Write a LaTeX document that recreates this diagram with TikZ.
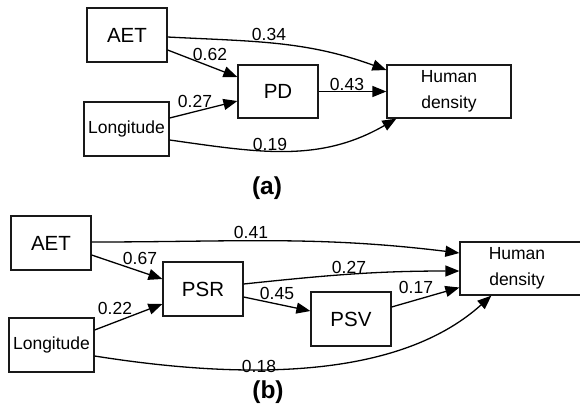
\documentclass[tikz,border=0pt]{standalone}
\usepackage{fontspec}
\setmainfont{Liberation Sans}
\usetikzlibrary{arrows.meta}
\newcommand\fbig{\fontsize{20.5}{24}\selectfont}
\newcommand\fmid{\fontsize{17.5}{25.5}\selectfont}
\newcommand\flab{\fontsize{17.5}{20}\selectfont}
\begin{document}
\begin{tikzpicture}[x=1pt,y=-1pt,
  box/.style={draw=black!90,line width=1.25pt,inner sep=0pt,minimum width=80pt,minimum height=54pt,font=\fbig},
  wbox/.style={box,font=\fmid,align=center},
  lab/.style={inner sep=0pt,font=\flab},
  panel/.style={inner sep=0pt,font=\fontsize{24.5}{28}\selectfont\bfseries},
  arr/.style={line width=1.3pt,-{Triangle[length=14pt,width=11pt]}}]
\useasboundingbox (0,0) rectangle (580,410);
% ---- panel (a)
\node[box] (aet1) at (127,35) {AET};
\node[wbox,minimum width=85pt] (lon1) at (126.5,129) {Longitude};
\node[box,minimum height=53pt] (pd) at (278,91.5) {PD};
\node[wbox,minimum width=124pt,minimum height=53pt] (hd1) at (449,91.5) {Human\\density};
\draw[arr] ([yshift=-2pt]aet1.east) to[out=-3,in=160] ([yshift=21.5pt]hd1.west);
\draw[arr] ([yshift=-15pt]aet1.east) -- ([yshift=14.5pt]pd.west);
\draw[arr] ([yshift=11pt]lon1.east) -- ([yshift=-9.5pt]pd.west);
\draw[arr] (pd.east) -- (hd1.west);
\draw[arr] ([yshift=-11pt]lon1.east) to[out=-8,in=-150] ([xshift=10pt]hd1.south west);
\node[lab] (l034) at (269,34) {0.34};
\node[lab] (l062) at (210,54) {0.62};
\node[lab] (l027) at (195,101) {0.27};
\node[lab] (l043) at (347,84) {0.43};
\node[lab] (l019) at (270,144) {0.19};
\node[panel] (pa) at (267,188) {(a)};
% ---- panel (b)
\node[box] (aet2) at (51,243) {AET};
\node[wbox,minimum width=85pt] (lon2) at (51.5,345) {Longitude};
\node[box] (psr) at (203,289) {PSR};
\node[box] (psv) at (351,319) {PSV};
\node[box,minimum width=124pt,minimum height=53pt] (hd2) at (522,268.5) {};
\node[inner sep=0pt,font=\fmid,align=center] (hd2t) at (517,268.5) {Human\\density};
\draw[arr] ([yshift=1pt]aet2.east) to[out=0,in=173] ([yshift=15.5pt]hd2.west);
\draw[arr] ([yshift=-12pt]aet2.east) -- ([yshift=10pt]psr.west);
\draw[arr] ([yshift=15pt]lon2.east) -- ([yshift=-15pt]psr.west);
\draw[arr] ([yshift=5pt]psr.east) to[out=6,in=180] ([yshift=-2.5pt]hd2.west);
\draw[arr] ([yshift=-8pt]psr.east) -- ([yshift=8pt]psv.west);
\draw[arr] ([yshift=12pt]psv.east) -- ([yshift=-19pt]hd2.west);
\draw[arr] ([yshift=-11pt]lon2.east) to[out=-9,in=-138,looseness=0.85] ([xshift=32pt]hd2.south west);
\node[lab] (l041) at (251,232) {0.41};
\node[lab] (l067) at (140,258) {0.67};
\node[lab] (l022) at (115,308) {0.22};
\node[lab] (l027b) at (349,267) {0.27};
\node[lab] (l045) at (277,293) {0.45};
\node[lab] (l017) at (416,287) {0.17};
\node[lab] (l018) at (259,366) {0.18};
\node[panel] (pb) at (268,392) {(b)};
\end{tikzpicture}
\end{document}
